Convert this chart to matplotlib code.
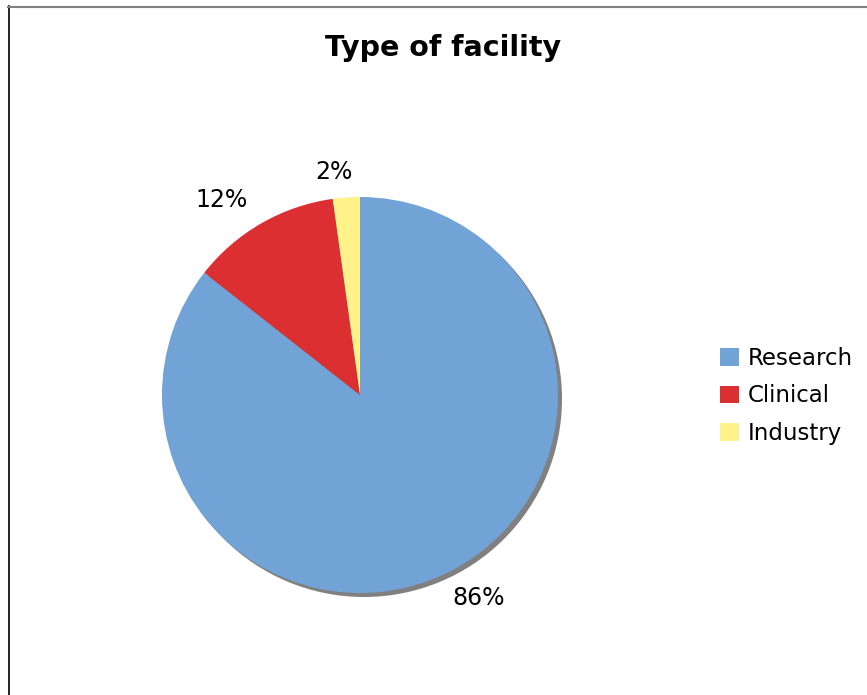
import matplotlib
matplotlib.use("Agg")
import matplotlib.pyplot as plt
from matplotlib.patches import Circle, Patch
from matplotlib.lines import Line2D

categories = ["Research", "Clinical", "Industry"]
values = [85.6, 12.2, 2.2]
pct_labels = ["86%", "12%", "2%"]
colors = ["#72A3D6", "#DB2F32", "#FFF28A"]
label_pos = [(0.60, -1.025), (-0.70, 0.985), (-0.131, 1.126)]

W, H = 867, 695
fig = plt.figure(figsize=(W / 100, H / 100), dpi=100)
fig.patch.set_facecolor("white")

cx, cy, r = 360, 395, 198
half = 222
ax = fig.add_axes([(cx - half) / W, (H - cy - half) / H, 2 * half / W, 2 * half / H])
lim = half / r

# shadow
off = 4 / r
ax.add_patch(Circle((off, -off), 1.0, color="#808080", zorder=0, lw=0))

ax.pie(values, colors=colors, startangle=90, counterclock=False, radius=1.0,
       wedgeprops=dict(linewidth=0), frame=True)
ax.set_xlim(-lim, lim)
ax.set_ylim(-lim, lim)
ax.axis("off")

for txt, (x, y) in zip(pct_labels, label_pos):
    ax.text(x, y, txt, ha="center", va="center", fontsize=17, color="black",
            family="DejaVu Sans")

fig.text(443 / W, 1 - 48 / H, "Type of facility", ha="center", va="center",
         fontsize=20.5, fontweight="bold", family="DejaVu Sans")

handles = [Patch(facecolor=c, edgecolor="none") for c in colors]
leg = fig.legend(handles, categories, loc="center left",
                 bbox_to_anchor=(720 / W, 1 - 396 / H), frameon=False,
                 fontsize=16.5, handlelength=0.82, handleheight=0.82,
                 handletextpad=0.4, labelspacing=0.64, borderpad=0.0,
                 borderaxespad=0.0)

# figure border lines (left and top)
fig.add_artist(Line2D([8.5 / W, 8.5 / W], [0, 1 - 6 / H], transform=fig.transFigure,
                      color="black", lw=1.2))
fig.add_artist(Line2D([8 / W, 1], [1 - 6.5 / H, 1 - 6.5 / H], transform=fig.transFigure,
                      color="#808080", lw=1.5))

fig.savefig("out.png", dpi=100, facecolor="white")
